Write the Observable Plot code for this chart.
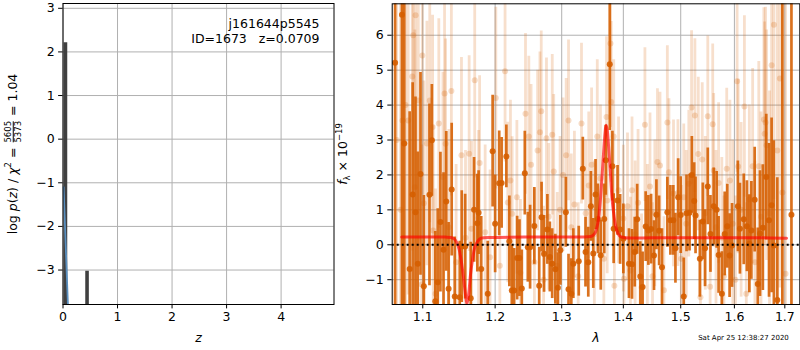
<!DOCTYPE html>
<html><head><meta charset="utf-8">
<script src="https://cdn.jsdelivr.net/npm/d3@7"></script>
<script src="https://cdn.jsdelivr.net/npm/@observablehq/plot@0.6"></script>
<style>
body{margin:0;background:#fff;font-family:"DejaVu Sans",sans-serif;}
#wrap{position:relative;width:800px;height:350px;overflow:hidden;background:#fff;}
#wrap svg{position:absolute;top:0;}
.lab{position:absolute;font-size:12.5px;white-space:nowrap;color:#000;line-height:1;font-family:"DejaVu Sans",sans-serif;}
.frac{display:inline-flex;flex-direction:column;vertical-align:middle;font-size:8.5px;line-height:1;text-align:center;margin:0 1px;}
.frac span:first-child{border-bottom:0.9px solid #000;padding-bottom:0.5px;}
sup,sub{font-size:8.5px;line-height:0;}
</style></head><body>
<div id="wrap"></div>
<script>
// ---------- left panel: p(z) ----------
const zTicks = [0, 1, 2, 3, 4];
const pTicks = [-3, -2, -1, 0, 1, 2, 3];
const spikeZ = [0.045, 0.441];
const spikeTop = [2.21, -3.03];
const spikeFloor = [-4.0, -4.0];
const pzLineZ = [0.011, 0.05, 0.092];
const pzLineY = [-1.1, -2.45, -3.85];
const objName = "j161644p5545";
const objInfo = "ID=1673\u00a0\u00a0\u00a0z=0.0709";

// ---------- right panel: spectrum ----------
const lamTicks = [1.1, 1.2, 1.3, 1.4, 1.5, 1.6, 1.7];
const fTicks = [-1, 0, 1, 2, 3, 4, 5, 6];

const darkLam = [1.064,1.0728,1.0758,1.0828,1.0867,1.0904,1.0934,1.097,1.1014,1.1089,1.1121,1.1167,1.12,1.1236,1.1278,1.1315,1.1347,1.1389,1.1431,1.15,1.1528,1.1575,1.1653,1.17,1.1746,1.1764,1.1801,1.1894,1.1964,1.2,1.2059,1.2094,1.2163,1.2207,1.2243,1.2277,1.2322,1.2356,1.2391,1.2436,1.2481,1.2515,1.2579,1.2653,1.2689,1.2727,1.2778,1.2816,1.2852,1.2901,1.2941,1.2979,1.3065,1.3107,1.3151,1.3183,1.3269,1.3334,1.3378,1.3422,1.3464,1.3503,1.354,1.3578,1.3625,1.3682,1.3707,1.3773,1.3817,1.3838,1.3903,1.3946,1.4,1.4095,1.4147,1.4193,1.4235,1.4288,1.4328,1.4381,1.4428,1.4475,1.4526,1.4568,1.4615,1.4666,1.4761,1.4815,1.4867,1.4905,1.4954,1.5,1.5055,1.5105,1.516,1.5202,1.5245,1.527,1.5349,1.5404,1.5445,1.5496,1.5546,1.5607,1.5662,1.5699,1.5761,1.5815,1.5864,1.5908,1.5955,1.6067,1.6107,1.6181,1.6242,1.629,1.633,1.6395,1.6456,1.65,1.6557,1.6625,1.668,1.6732,1.6778,1.6847,1.695,1.7136];
const darkFlux = [5.21,6.59,2.9,-0.69,1.44,0.93,-0.54,2.03,-1.19,1.43,2.99,-1.62,-1.07,0.65,-0.14,1.24,-1.26,1.58,-1.48,-1.5,-0.05,-0.05,-1.53,1.0,0.62,0.92,-0.69,-1.4,2.68,0.6,1.76,1.77,2.53,0.1,-1.31,-1.31,-0.38,-0.38,-1.25,2.05,-0.07,-0.07,0.54,-1.17,0.79,-0.26,0.44,-0.35,-0.54,-0.7,-1.23,-0.16,0.93,-1.27,-1.4,-0.54,-0.47,2.18,-0.21,-0.5,1.1,-0.25,1.44,0.74,-0.3,0.74,2.42,5.17,2.25,0.46,1.27,0.44,0.17,-0.54,-0.56,-0.21,0.73,-0.91,-1.21,0.52,0.41,0.45,-0.31,0.86,0.4,-0.64,0.93,0.7,0.7,-0.1,1.36,0.85,-1.48,0.9,0.92,2.0,1.25,0.84,-0.4,0.67,-0.1,1.67,0.31,1.1,1.0,-0.29,-1.4,0.31,0.53,-0.31,-0.02,1.1,0.46,0.73,0.53,0.03,0.41,1.29,-1.12,0.32,0.49,1.94,0.7,1.13,-0.02,-1.58,-2.5,0.86];
const darkErr = [12,12,12,4.5,3.2,3.3,3.2,2.9,2.6,2.6,1.6,2.0,2.1,2.0,2.2,2.0,1.9,1.9,1.7,1.6,1.6,1.5,1.6,1.5,1.4,1.2,1.5,1.5,1.6,1.4,1.5,1.3,0.9,1.3,1.3,1.2,1.2,1.1,1.1,1.2,1.0,1.2,1.1,1.1,1.0,1.1,1.0,1.0,1.0,1.0,1.0,1.0,1.0,1.0,1.0,1.0,1.0,0.9,1.0,1.0,1.0,1.0,1.0,1.0,1.0,1.0,1.0,1.9,1.0,1.0,1.0,1.0,1.0,1.0,1.0,1.0,1.0,1.0,1.0,1.0,1.0,1.0,1.0,1.0,1.0,1.1,1.0,1.0,1.0,1.0,1.1,1.1,1.1,1.1,1.1,1.1,1.1,1.1,1.1,1.1,1.1,1.1,1.1,1.1,1.1,1.1,1.2,1.2,1.2,1.2,1.2,1.3,1.3,1.3,1.3,1.4,1.4,1.5,1.6,1.8,1.8,1.8,2.2,2.5,3.0,3.5,12,12];

const lightLam = [1.066,1.071,1.0735,1.0775,1.0809,1.0862,1.0875,1.0896,1.0906,1.0941,1.0985,1.0994,1.1014,1.1055,1.1093,1.1131,1.1139,1.117,1.1214,1.127,1.1292,1.1306,1.135,1.1385,1.145,1.1524,1.158,1.1631,1.1663,1.1709,1.1764,1.1778,1.1857,1.1927,1.201,1.2068,1.2144,1.2184,1.2223,1.2248,1.2318,1.237,1.2446,1.2496,1.253,1.258,1.2629,1.2664,1.2684,1.272,1.2764,1.28,1.2853,1.2876,1.293,1.2975,1.3021,1.307,1.3107,1.315,1.32,1.326,1.3313,1.338,1.343,1.3476,1.352,1.3568,1.362,1.3676,1.372,1.3731,1.3785,1.3797,1.3839,1.385,1.392,1.4,1.401,1.407,1.412,1.4147,1.42,1.425,1.431,1.4368,1.441,1.4456,1.45,1.454,1.4586,1.4631,1.47,1.4761,1.4789,1.487,1.495,1.501,1.5055,1.51,1.5147,1.5197,1.5258,1.532,1.536,1.5393,1.545,1.5496,1.554,1.5588,1.5607,1.565,1.5699,1.576,1.58,1.5853,1.5914,1.597,1.602,1.6052,1.6073,1.613,1.6194,1.623,1.629,1.6355,1.64,1.6476,1.652,1.6577,1.6591,1.6611,1.6631,1.669,1.6732,1.6778,1.6847,1.6899,1.695,1.7015];
const lightFlux = [3.0,1.0,3.56,4.0,3.56,4.82,6.0,1.65,6.57,4.13,-1.14,5.42,1.19,2.9,4.13,3.37,0.41,-1.4,3.47,1.94,4.33,2.89,0.5,4.4,-0.5,2.56,0.2,2.61,0.46,4.71,0.77,2.34,0.36,-0.36,4.2,-0.6,4.97,1.21,1.84,0.89,1.36,-0.8,3.75,3.1,2.29,-0.5,2.7,3.22,3.82,-1.0,3.05,0.8,3.15,2.1,-0.6,1.0,2.0,2.56,3.56,0.5,1.15,-0.9,3.47,0.9,1.7,2.29,0.3,3.1,1.9,-0.4,3.66,1.27,5.76,4.09,3.1,-1.17,1.56,0.75,-0.97,1.1,-0.74,1.56,0.3,1.2,-1.22,3.44,0.2,1.67,-0.9,0.9,2.37,2.27,-1.3,3.5,2.08,1.47,1.48,-0.4,1.36,0.6,1.75,3.93,3.7,2.6,-1.5,2.44,0.9,3.68,-1.2,3.45,2.13,0.5,1.77,0.2,-0.9,2.18,1.84,0.6,-1.0,4.68,2.24,1.0,3.96,-1.4,1.3,2.25,-0.5,2.25,0.8,3.59,3.18,3.5,2.85,0.9,5.14,6.3,2.7,4.76,1.5,-0.83];
const lightErr = [8,8,7,6,5,5,5,4.5,5,4,4,4,3.5,3.5,3.5,3.2,3,3,3,3,3,3,2.8,3,2.8,2.8,2.5,2.8,2.5,2.8,2.5,2.5,2.5,2.5,2.6,2.3,2.6,2.3,2.3,2.2,2.2,2.1,2.3,2.3,2.3,2.1,2.3,2.3,2.3,2.1,2.3,2.1,2.3,2.2,2.1,2.1,2.2,2.2,2.3,2.1,2.1,2.1,2.3,2.1,2.1,2.2,2.1,2.2,2.1,2.1,2.3,2.1,2.4,2.3,2.2,2.1,2.1,2.1,2.1,2.1,2.1,2.1,2.1,2.1,2.1,2.2,2.1,2.1,2.1,2.1,2.1,2.1,2.1,2.2,2.1,2.1,2.1,2.1,2.1,2.1,2.1,2.2,2.2,2.2,2.2,2.2,2.2,2.3,2.2,2.3,2.2,2.2,2.3,2.3,2.3,2.3,2.3,2.4,2.4,2.6,2.5,2.5,2.6,2.6,2.7,2.8,2.9,3.0,3.0,3.2,3.2,3.3,3.3,3.5,4,5,5,6,8,8];

const modelLam = [1.0725,1.100,1.130,1.138,1.1425,1.146,1.149,1.152,1.155,1.1575,1.160,1.1625,1.165,1.168,1.171,1.175,1.180,1.200,1.250,1.300,1.340,1.348,1.353,1.3575,1.361,1.364,1.367,1.3695,1.3712,1.373,1.3755,1.3785,1.381,1.3838,1.387,1.390,1.394,1.400,1.450,1.500,1.550,1.600,1.650,1.7035];
const modelFlux = [0.22,0.22,0.22,0.21,0.17,0.06,-0.12,-0.45,-0.9,-1.35,-1.7,-1.4,-0.85,-0.4,-0.08,0.1,0.19,0.21,0.22,0.22,0.23,0.25,0.33,0.6,1.1,1.8,2.6,3.2,3.42,3.3,2.8,2.03,1.35,0.9,0.55,0.36,0.25,0.21,0.2,0.2,0.2,0.2,0.2,0.19];
const zeroLevel = [0];
const stamp = "Sat Apr 25 12:38:27 2020";

// ---------- build tables ----------
const spikes = spikeZ.map((z, i) => ({z, top: spikeTop[i], floor: spikeFloor[i]}));
const pzLine = pzLineZ.map((z, i) => ({z, y: pzLineY[i]}));
const dark = darkLam.map((lam, i) => ({lam, f: darkFlux[i], e: darkErr[i]}));
const light = lightLam.map((lam, i) => ({lam, f: lightFlux[i], e: lightErr[i]}));
const model = modelLam.map((lam, i) => ({lam, f: modelFlux[i]}));

const minus = d => (d < 0 ? "\u2212" + (-d) : String(d));
const FS = 12.5;
const ORANGE = "#d55e00";
const GRID = {stroke: "#b0b0b0", strokeOpacity: 1, strokeWidth: 1};

const left = Plot.plot({
  width: 340, height: 350,
  marginLeft: 62.5, marginRight: 6.5, marginTop: 3, marginBottom: 46,
  style: {fontFamily: "DejaVu Sans", fontSize: FS + "px", background: "transparent", overflow: "visible"},
  x: {domain: [0, 4.97]},
  y: {domain: [-3.79, 3.11]},
  marks: [
    Plot.gridX(zTicks, GRID),
    Plot.gridY(pTicks, GRID),
    Plot.ruleX(spikes, {x: "z", y1: "floor", y2: "top", stroke: "#404040", strokeWidth: 3.6, clip: true}),
    Plot.line(pzLine, {x: "z", y: "y", stroke: "#5a8fbf", strokeWidth: 1.8, clip: true}),
    Plot.frame({stroke: "black", strokeWidth: 1}),
    Plot.axisX(zTicks, {tickSize: 4.4, tickPadding: 3.5, fontSize: FS, label: null, tickFormat: d => String(d)}),
    Plot.axisY(pTicks, {tickSize: 4.4, tickPadding: 4, fontSize: FS, label: null, tickFormat: minus}),
    Plot.text([objName + "\n" + objInfo], {frameAnchor: "top-right", textAnchor: "end", lineAnchor: "top", dx: -14.5, dy: 13.2, lineHeight: 1.23, fontSize: FS}),
    Plot.text(["z"], {frameAnchor: "bottom", dy: 37, fontStyle: "italic", fontSize: FS})
  ]
});
left.style.left = "0px";

const right = Plot.plot({
  width: 460, height: 350,
  marginLeft: 51.7, marginRight: 0.7, marginTop: 3.3, marginBottom: 46,
  style: {fontFamily: "DejaVu Sans", fontSize: FS + "px", background: "transparent", overflow: "visible"},
  x: {type: "log", domain: [1.0603, 1.7309]},
  y: {domain: [-1.71, 6.9]},
  marks: [
    Plot.gridX(lamTicks, GRID),
    Plot.gridY(fTicks, GRID),
    Plot.ruleX(light, {x: "lam", y1: d => d.f - d.e, y2: d => d.f + d.e, stroke: ORANGE, strokeOpacity: 0.2, strokeWidth: 2.8, clip: true}),
    Plot.dot(light, {x: "lam", y: "f", r: 3, fill: ORANGE, fillOpacity: 0.22, clip: true}),
    Plot.ruleX(dark, {x: "lam", y1: d => d.f - d.e, y2: d => d.f + d.e, stroke: ORANGE, strokeOpacity: 0.88, strokeWidth: 2.7, clip: true}),
    Plot.dot(dark, {x: "lam", y: "f", r: 3, fill: ORANGE, fillOpacity: 0.9, clip: true}),
    Plot.line(model, {x: "lam", y: "f", stroke: "red", strokeOpacity: 0.65, strokeWidth: 3, curve: "catmull-rom", clip: true}),
    Plot.ruleY(zeroLevel, {stroke: "black", strokeWidth: 2, strokeDasharray: "2,3"}),
    Plot.frame({stroke: "black", strokeWidth: 1}),
    Plot.axisX(lamTicks, {tickSize: 4.4, tickPadding: 3.5, fontSize: FS, label: null, tickFormat: d => d.toFixed(1)}),
    Plot.axisY(fTicks, {tickSize: 4.4, tickPadding: 4, fontSize: FS, label: null, tickFormat: minus}),
    Plot.text(["\u03bb"], {frameAnchor: "bottom", dy: 37, fontStyle: "italic", fontSize: FS}),
    Plot.text([stamp], {frameAnchor: "bottom-right", textAnchor: "end", dx: -11, dy: 35.5, fontSize: 7})
  ]
});
right.style.left = "340px";

const wrap = document.getElementById("wrap");
wrap.appendChild(left);
wrap.appendChild(right);

const y1 = document.createElement("div");
y1.className = "lab";
y1.style.left = "13px"; y1.style.top = "154px";
y1.style.transform = "translate(-50%,-50%) rotate(-90deg)";
y1.innerHTML = 'log <i>p</i>(<i>z</i>) / <i>\u03c7</i><sup>2</sup> = <span class="frac"><span>5605</span><span>5373</span></span> = 1.04';
wrap.appendChild(y1);

const y2 = document.createElement("div");
y2.className = "lab";
y2.style.left = "343px"; y2.style.top = "154px";
y2.style.transform = "translate(-50%,-50%) rotate(-90deg)";
y2.innerHTML = '<i>f</i><sub>\u03bb</sub> \u00d7 10<sup>\u221219</sup>';
wrap.appendChild(y2);
</script>
</body></html>
